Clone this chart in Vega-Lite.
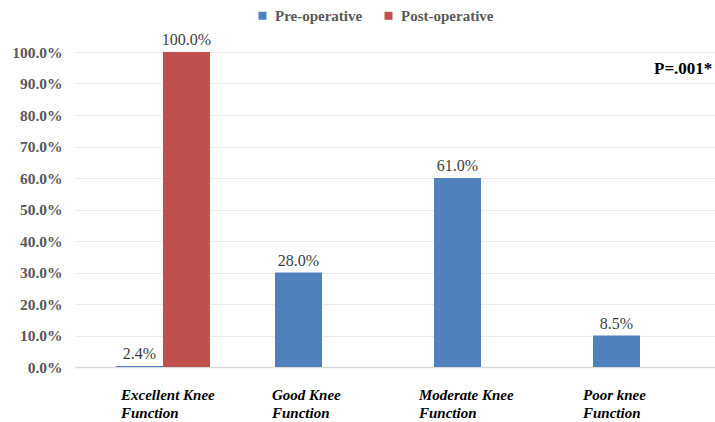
{
  "$schema": "https://vega.github.io/schema/vega-lite/v6.json",
  "autosize": {"type": "none"},
  "width": 640,
  "height": 315,
  "padding": {"left": 75, "top": 52, "right": 0, "bottom": 55},
  "background": "white",
  "config": {
    "view": {"stroke": null},
    "font": "Liberation Serif",
    "axis": {"labelFont": "Liberation Serif"}
  },
  "datasets": {
    "bars": [
      {"category": "Excellent Knee Function", "group": "Pre-operative", "value": 0.003, "label": "2.4%"},
      {"category": "Excellent Knee Function", "group": "Post-operative", "value": 1.0, "label": "100.0%"},
      {"category": "Good Knee Function", "group": "Pre-operative", "value": 0.30, "label": "28.0%"},
      {"category": "Moderate Knee Function", "group": "Pre-operative", "value": 0.60, "label": "61.0%"},
      {"category": "Poor knee Function", "group": "Pre-operative", "value": 0.10, "label": "8.5%"}
    ],
    "note": [
      {"category": "Poor knee Function", "value": 0.945, "label": "P=.001*"}
    ]
  },
  "encoding": {
    "x": {
      "field": "category", "type": "nominal", "sort": null,
      "scale": {"domain": ["Excellent Knee Function", "Good Knee Function", "Moderate Knee Function", "Poor knee Function"], "paddingInner": 0.409, "paddingOuter": 0.217, "align": 0.594},
      "axis": {
        "title": null,
        "domainColor": "#D9D9D9",
        "domainWidth": 1.5,
        "ticks": false,
        "labelAngle": 0,
        "labelAlign": "left",
        "labelBaseline": "top",
        "labelPadding": 20,
        "labelFont": "Liberation Serif",
        "labelFontSize": 15,
        "labelFontWeight": "bold",
        "labelFontStyle": "italic",
        "labelColor": "#000000",
        "labelLineHeight": 18,
        "labelExpr": "[replace(datum.label, ' Function', ''), 'Function']",
        "labelOffset": {
          "condition": [
            {"test": "datum.value == 'Excellent Knee Function'", "value": -42},
            {"test": "datum.value == 'Good Knee Function'", "value": -50},
            {"test": "datum.value == 'Moderate Knee Function'", "value": -62}
          ],
          "value": -57
        }
      }
    },
    "y": {
      "field": "value", "type": "quantitative",
      "scale": {"domain": [0, 1], "nice": false},
      "axis": {
        "title": null,
        "format": ".1%",
        "values": [0, 0.1, 0.2, 0.3, 0.4, 0.5, 0.6, 0.7, 0.8, 0.9, 1.0],
        "labelOverlap": false,
        "domain": false,
        "ticks": false,
        "gridColor": "#EBEBEB",
        "labelPadding": 13,
        "labelFont": "Liberation Serif",
        "labelFontSize": 15.5,
        "labelFontWeight": 600,
        "labelColor": "#595959"
      }
    }
  },
  "layer": [
    {
      "data": {"name": "bars"},
      "mark": {"type": "bar"},
      "encoding": {
        "xOffset": {"field": "group", "type": "nominal", "sort": ["Pre-operative", "Post-operative"]},
        "color": {
          "field": "group", "type": "nominal",
          "scale": {"domain": ["Pre-operative", "Post-operative"], "range": ["#4F81BD", "#C0504D"]},
          "legend": {
            "title": null,
            "orient": "none",
            "direction": "horizontal",
            "legendX": 180,
            "legendY": -44,
            "symbolType": "square",
            "symbolSize": 64,
            "symbolStrokeWidth": 0,
            "labelFont": "Liberation Serif",
            "labelFontSize": 15,
            "labelFontWeight": "bold",
            "labelColor": "#595959",
            "labelOffset": 5,
            "columnPadding": 18
          }
        }
      }
    },
    {
      "data": {"name": "bars"},
      "mark": {"type": "text", "baseline": "bottom", "dy": -4, "font": "Liberation Serif", "fontSize": 16, "color": "#404040"},
      "encoding": {
        "xOffset": {"field": "group", "type": "nominal", "sort": ["Pre-operative", "Post-operative"]},
        "text": {"field": "label"}
      }
    },
    {
      "data": {"name": "note"},
      "mark": {"type": "text", "align": "left", "baseline": "middle", "dx": 14, "font": "Liberation Serif", "fontSize": 17, "fontWeight": "bold", "color": "#000000"},
      "encoding": {
        "text": {"field": "label"}
      }
    }
  ]
}
